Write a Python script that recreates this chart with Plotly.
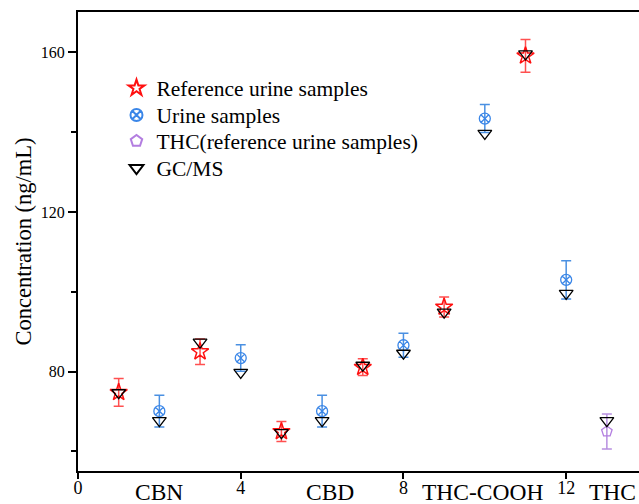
import plotly.graph_objects as go

# Data
ref_x = [1, 3, 5, 7, 9, 11]
ref_y = [74.8, 85.0, 65.0, 81.1, 96.2, 159.1]
ref_err = [3.5, 3.2, 2.5, 2.1, 2.5, 4.1]

urine_x = [2, 4, 6, 8, 10, 12]
urine_y = [70.1, 83.4, 70.1, 86.6, 143.4, 103.0]
urine_err = [4.0, 3.3, 4.0, 3.0, 3.5, 4.8]

thc_x = [13]
thc_y = [65.0]
thc_err = [4.4]

gc_x = [1, 2, 3, 4, 5, 6, 7, 8, 9, 10, 11, 12, 13]
gc_y = [74.7, 67.7, 87.4, 79.8, 64.7, 67.7, 81.6, 84.6, 94.9, 139.7, 159.6, 99.6, 67.7]

x_ticks = [0, 4, 8, 12]
cat_labels = ["CBN", "CBD", "THC-COOH", "THC"]
cat_pos = [2, 6.2, 9.95, 13.15]

FONT = "Liberation Serif, Times New Roman, serif"
LEG_FONT = dict(family=FONT, size=21.5, color="black")

fig = go.Figure()
fig.add_trace(go.Scatter(
    x=ref_x, y=ref_y, mode="markers", name="Reference urine samples", legend="legend",
    marker=dict(symbol="star-open", size=13, color="#ff1010", line=dict(width=1.5)),
    error_y=dict(type="data", array=ref_err, color="#ff5050", thickness=1.5, width=5),
))
fig.add_trace(go.Scatter(
    x=urine_x, y=urine_y, mode="markers", name="Urine samples", legend="legend2",
    marker=dict(symbol="circle-x-open", size=11, color="#3a86e8", line=dict(width=1.3)),
    error_y=dict(type="data", array=urine_err, color="#4a90e2", thickness=1.5, width=5),
))
fig.add_trace(go.Scatter(
    x=thc_x, y=thc_y, mode="markers", name="THC(reference urine samples)", legend="legend3",
    marker=dict(symbol="pentagon-open", size=11, color="#b37ee0", line=dict(width=1.3)),
    error_y=dict(type="data", array=thc_err, color="#b890e0", thickness=1.5, width=5),
))
fig.add_trace(go.Scatter(
    x=gc_x, y=gc_y, mode="markers", name="GC/MS", legend="legend4",
    marker=dict(symbol="triangle-down-open", size=12, color="black", line=dict(width=1.3)),
))

for lab, pos in zip(cat_labels, cat_pos):
    fig.add_annotation(x=pos, y=-0.014, xref="x", yref="paper", text=lab,
                       showarrow=False, yanchor="top",
                       font=dict(family=FONT, size=23.5, color="black"))

leg_common = dict(x=0.0686, xanchor="left", yanchor="middle",
                  bgcolor="rgba(0,0,0,0)", font=LEG_FONT, itemsizing="constant")

fig.update_layout(
    width=639, height=504,
    margin=dict(l=78, r=0, t=12, b=33),
    plot_bgcolor="white", paper_bgcolor="white",
    font=dict(family=FONT, color="black"),
    showlegend=True,
    legend=dict(y=0.8344, **leg_common),
    legend2=dict(y=0.7756, **leg_common),
    legend3=dict(y=0.7190, **leg_common),
    legend4=dict(y=0.6601, **leg_common),
    xaxis=dict(range=[0, 13.79], tickvals=x_ticks, ticktext=[str(v) for v in x_ticks],
               showgrid=False, zeroline=False, showline=True, linecolor="black",
               linewidth=2, mirror=True, ticks="outside", ticklen=6, tickwidth=2,
               tickcolor="black", tickfont=dict(family=FONT, size=18),
               ticklabelstandoff=-7),
    yaxis=dict(range=[55.1, 170.1], tick0=0, dtick=40, showgrid=False, zeroline=False,
               showline=True, linecolor="black", linewidth=2, ticks="outside",
               ticklen=8, tickwidth=2, tickcolor="black",
               tickfont=dict(family=FONT, size=16),
               minor=dict(dtick=20, ticks="outside", ticklen=5, tickwidth=2,
                          tickcolor="black", showgrid=False),
               title=dict(text="Concentration (ng/mL)", font=dict(family=FONT, size=22.5),
                          standoff=3)),
)

fig.write_html("out.html")
